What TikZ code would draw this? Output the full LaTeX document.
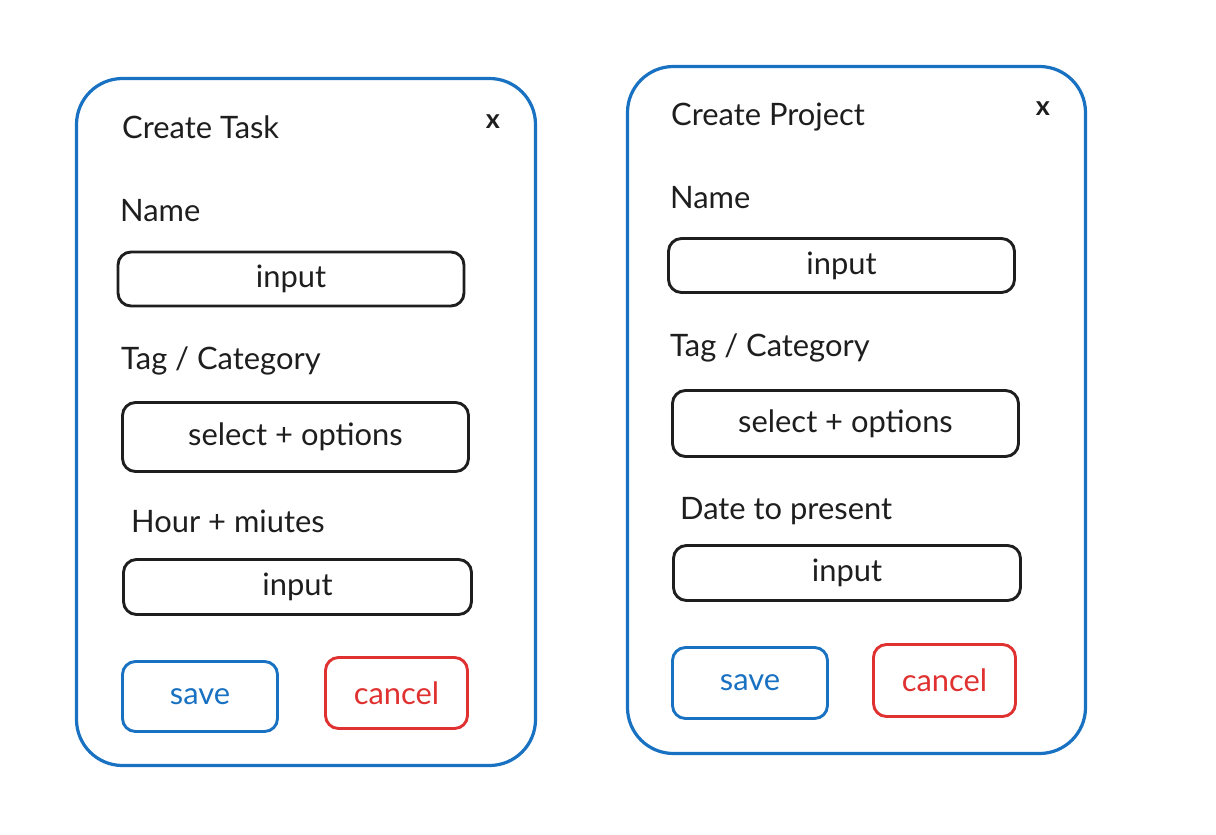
\documentclass[tikz,border=0pt]{standalone}
\usepackage{fontspec}
\setmainfont{Lato}
\definecolor{inkB}{HTML}{1971C2}
\definecolor{inkR}{HTML}{E03131}
\definecolor{inkK}{HTML}{1E1E1E}
\newcommand{\sketchfont}{\fontsize{31}{36}\selectfont}
\tikzset{
  card/.style={draw=inkB, line width=3.2bp, rounded corners=46bp, inner sep=0pt},
  lbl/.style={anchor=base west, text=inkK, inner sep=0pt, font=\sketchfont},
  field/.style={draw=inkK, line width=2.9bp, rounded corners=13bp, inner sep=0pt,
    text=inkK, font=\sketchfont},
  savebtn/.style={field, draw=inkB, text=inkB},
  cancelbtn/.style={field, draw=inkR, text=inkR},
  closex/.style={text=inkK, inner sep=0pt, font=\fontsize{27}{30}\selectfont\bfseries}
}

\begin{document}
\begin{tikzpicture}[x=1bp, y=-1bp]
  \useasboundingbox (0,0) rectangle (1216,835);
  % task card
  \node[card, minimum width=459bp, minimum height=687bp] (taskcard) at (306,422) {};
  \node[lbl] (tasktitle) at (122,138) {Create Task};
  \node[closex] (taskx) at (493,122) {x};
  \node[lbl] (taskname) at (120,221) {Name};
  \node[field, minimum width=346bp, minimum height=54bp] (taskinput) at (291,279) {input};
  \node[lbl] (tasktag) at (121,369) {Tag / Category};
  \node[field, minimum width=346bp, minimum height=69bp] (taskselect) at (295.5,437) {select + options};
  \node[lbl] (taskhour) at (131,532) {Hour + miutes};
  \node[field, minimum width=348bp, minimum height=55bp] (taskhourinput) at (297.5,587) {input};
  \node[savebtn, minimum width=155bp, minimum height=70bp] (tasksave) at (200,696.5) {save};
  \node[cancelbtn, minimum width=142bp, minimum height=71bp] (taskcancel) at (396.5,693) {cancel};
  % project card
  \node[card, minimum width=458bp, minimum height=687bp] (projcard) at (856.5,410) {};
  \node[lbl] (projtitle) at (671,125) {Create Project};
  \node[closex] (projx) at (1043,109) {x};
  \node[lbl] (projname) at (670,208) {Name};
  \node[field, minimum width=346bp, minimum height=54bp] (projinput) at (841.5,265.5) {input};
  \node[lbl] (projtag) at (670,356) {Tag / Category};
  \node[field, minimum width=346bp, minimum height=66bp] (projselect) at (845.5,423.5) {select + options};
  \node[lbl] (projdate) at (680,519) {Date to present};
  \node[field, minimum width=347bp, minimum height=55bp] (projdateinput) at (847,573) {input};
  \node[savebtn, minimum width=155bp, minimum height=71bp] (projsave) at (750,683) {save};
  \node[cancelbtn, minimum width=142bp, minimum height=72bp] (projcancel) at (944.5,680.5) {cancel};
\end{tikzpicture}
\end{document}
